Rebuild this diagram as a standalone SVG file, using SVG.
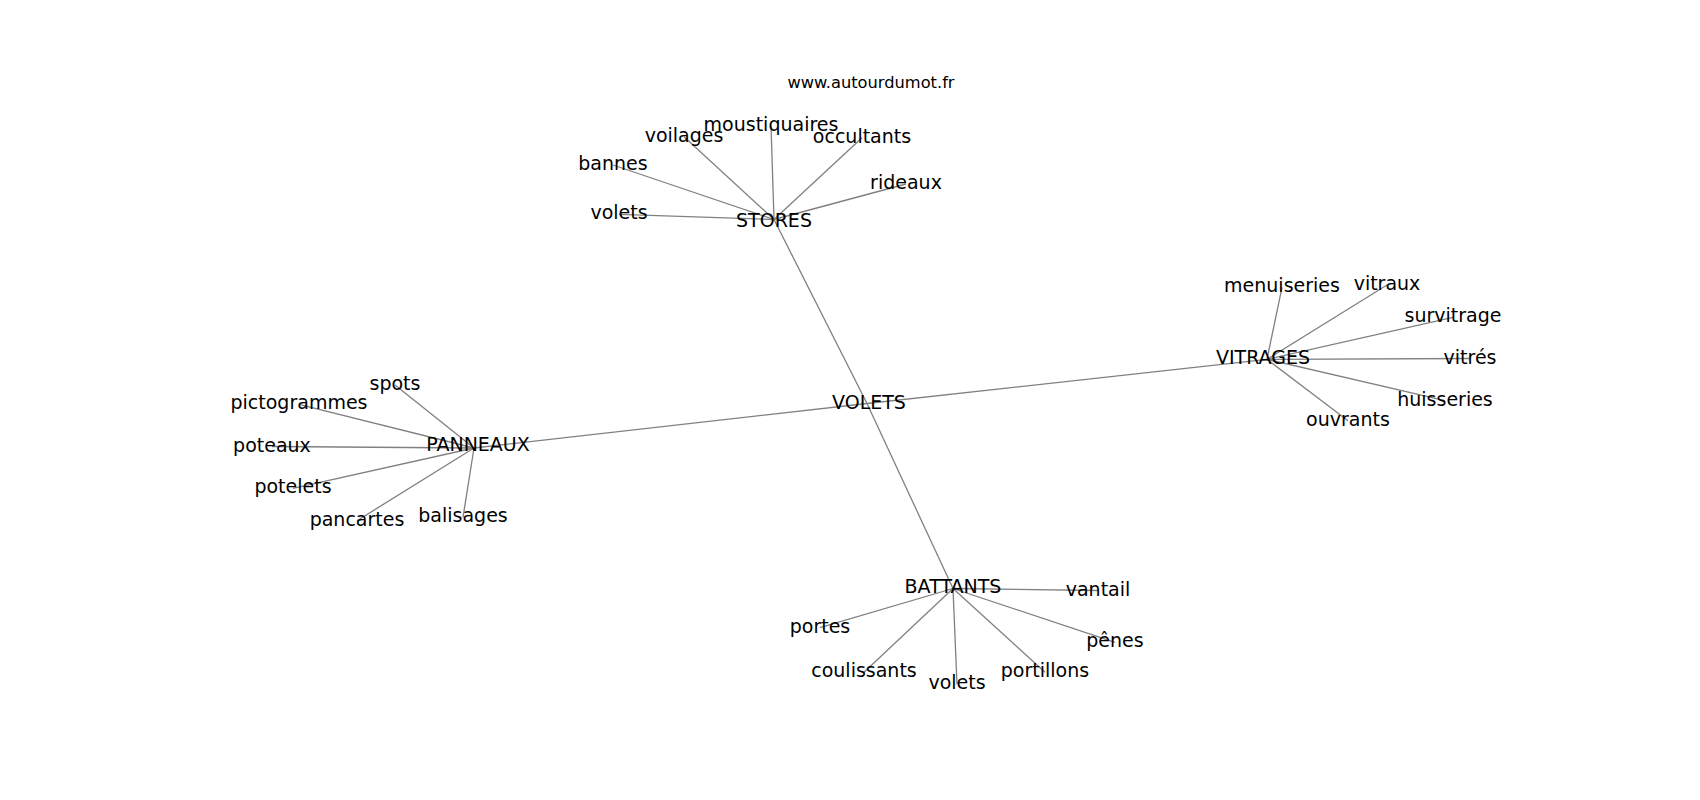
<svg xmlns="http://www.w3.org/2000/svg" width="1700" height="800" viewBox="0 0 1700 800">
<style>
.e{stroke:#808080;stroke-width:1.3;fill:none}
.t{font-family:"DejaVu Sans","Liberation Sans",sans-serif;font-size:19px;fill:#000;text-anchor:middle}
.title{font-family:"DejaVu Sans","Liberation Sans",sans-serif;font-size:16.25px;fill:#000;text-anchor:middle}
</style>
<rect width="1700" height="800" fill="#fff"/>
<text class="title" x="871" y="88">www.autourdumot.fr</text>
<g id="edges">
<line class="e" x1="867" y1="403.5" x2="774" y2="219.5"/>
<line class="e" x1="867" y1="403.5" x2="1267" y2="359.3"/>
<line class="e" x1="867" y1="403.5" x2="474" y2="448"/>
<line class="e" x1="867" y1="403.5" x2="953" y2="588.5"/>
<line class="e" x1="774" y1="219.5" x2="684" y2="136.7"/>
<line class="e" x1="774" y1="219.5" x2="771" y2="125.7"/>
<line class="e" x1="774" y1="219.5" x2="862" y2="137.7"/>
<line class="e" x1="774" y1="219.5" x2="613" y2="165"/>
<line class="e" x1="774" y1="219.5" x2="906" y2="184"/>
<line class="e" x1="774" y1="219.5" x2="619" y2="214.3"/>
<line class="e" x1="1267" y1="359.3" x2="1282" y2="287.3"/>
<line class="e" x1="1267" y1="359.3" x2="1387" y2="285"/>
<line class="e" x1="1267" y1="359.3" x2="1453" y2="317.3"/>
<line class="e" x1="1267" y1="359.3" x2="1470" y2="358.5"/>
<line class="e" x1="1267" y1="359.3" x2="1445" y2="400.7"/>
<line class="e" x1="1267" y1="359.3" x2="1348" y2="420.7"/>
<line class="e" x1="474" y1="448" x2="395" y2="385"/>
<line class="e" x1="474" y1="448" x2="299" y2="404.3"/>
<line class="e" x1="474" y1="448" x2="272" y2="446.5"/>
<line class="e" x1="474" y1="448" x2="293" y2="488.3"/>
<line class="e" x1="474" y1="448" x2="357" y2="520.7"/>
<line class="e" x1="474" y1="448" x2="463" y2="517.3"/>
<line class="e" x1="953" y1="588.5" x2="1098" y2="590.5"/>
<line class="e" x1="953" y1="588.5" x2="820" y2="627.7"/>
<line class="e" x1="953" y1="588.5" x2="864" y2="672.3"/>
<line class="e" x1="953" y1="588.5" x2="957" y2="684.3"/>
<line class="e" x1="953" y1="588.5" x2="1045" y2="672.3"/>
<line class="e" x1="953" y1="588.5" x2="1115" y2="642.3"/>
</g>
<g id="n-volets-center"><text class="t" x="869" y="409">VOLETS</text></g>
<g id="n-stores"><text class="t" x="774" y="226.5">STORES</text></g>
<g id="n-voilages"><text class="t" x="684" y="141.7">voilages</text></g>
<g id="n-moustiquaires"><text class="t" x="771" y="130.7">moustiquaires</text></g>
<g id="n-occultants"><text class="t" x="862" y="142.7">occultants</text></g>
<g id="n-bannes"><text class="t" x="613" y="170">bannes</text></g>
<g id="n-rideaux"><text class="t" x="906" y="189">rideaux</text></g>
<g id="n-volets-stores"><text class="t" x="619" y="219.3">volets</text></g>
<g id="n-vitrages"><text class="t" x="1263" y="364.3">VITRAGES</text></g>
<g id="n-menuiseries"><text class="t" x="1282" y="292.3">menuiseries</text></g>
<g id="n-vitraux"><text class="t" x="1387" y="290">vitraux</text></g>
<g id="n-survitrage"><text class="t" x="1453" y="322.3">survitrage</text></g>
<g id="n-vitres"><text class="t" x="1470" y="364">vitrés</text></g>
<g id="n-huisseries"><text class="t" x="1445" y="405.7">huisseries</text></g>
<g id="n-ouvrants"><text class="t" x="1348" y="425.7">ouvrants</text></g>
<g id="n-panneaux"><text class="t" x="478" y="451">PANNEAUX</text></g>
<g id="n-spots"><text class="t" x="395" y="390">spots</text></g>
<g id="n-pictogrammes"><text class="t" x="299" y="409.3">pictogrammes</text></g>
<g id="n-poteaux"><text class="t" x="272" y="451.7">poteaux</text></g>
<g id="n-potelets"><text class="t" x="293" y="493.3">potelets</text></g>
<g id="n-pancartes"><text class="t" x="357" y="525.7">pancartes</text></g>
<g id="n-balisages"><text class="t" x="463" y="522.3">balisages</text></g>
<g id="n-battants"><text class="t" x="953" y="592.5">BATTANTS</text></g>
<g id="n-vantail"><text class="t" x="1098" y="595.7">vantail</text></g>
<g id="n-portes"><text class="t" x="820" y="632.7">portes</text></g>
<g id="n-coulissants"><text class="t" x="864" y="677.3">coulissants</text></g>
<g id="n-volets-battants"><text class="t" x="957" y="689.3">volets</text></g>
<g id="n-portillons"><text class="t" x="1045" y="677.3">portillons</text></g>
<g id="n-penes"><text class="t" x="1115" y="647.3">pênes</text></g>
</svg>
